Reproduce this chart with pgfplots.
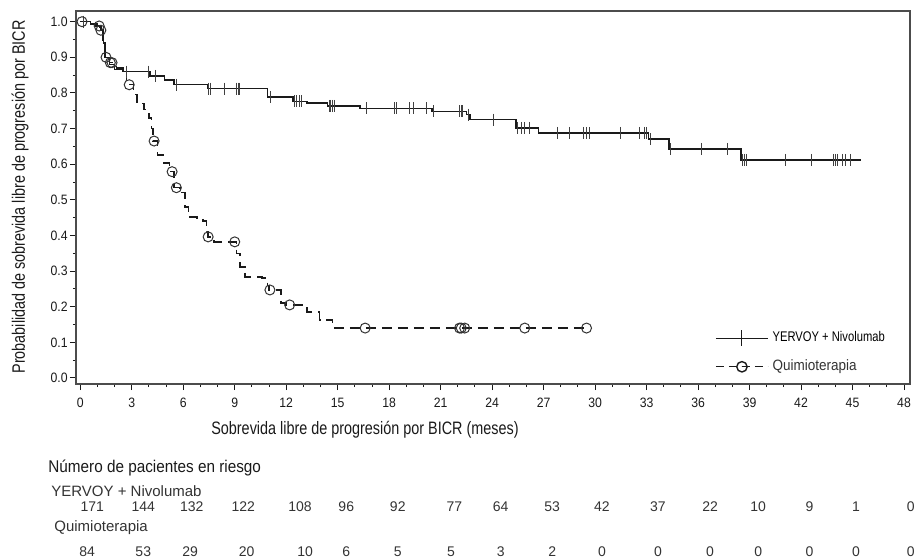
\documentclass[border=0pt]{standalone}
\usepackage{fontspec}
\setmainfont{Liberation Sans}
\newfontfamily\narrow[FakeStretch=0.8]{Liberation Sans}
\newfontfamily\semi[FakeStretch=0.9]{Liberation Sans}
\usepackage{pgfplots}
\pgfplotsset{compat=1.18}

\definecolor{ink}{HTML}{1A1A1A}
\definecolor{txt}{HTML}{333333}
\tikzset{risk/.style={anchor=base, inner sep=0pt, text=txt, font=\fontsize{7}{8}\selectfont}}

\begin{document}
\begin{tikzpicture}
% picture frame: 1 reference pixel = 0.5pt (921 x 558)
\path[use as bounding box] (0pt,0pt) rectangle (460.5pt,279pt);
\begin{axis}[
  at={(38pt,87pt)}, anchor=south west,
  scale only axis, width=417pt, height=186.5pt,
  xmin=-0.25, xmax=48.35, ymin=-0.017, ymax=1.03,
  xtick={0,3,...,48}, minor x tick num=2,
  ytick={0,0.1,0.2,0.3,0.4,0.5,0.6,0.7,0.8,0.9,1.0}, minor y tick num=1,
  tick pos=left, tick align=outside,
  major tick length=3pt, minor tick length=1.6pt,
  every tick/.style={ink, line width=0.5pt},
  axis line style={draw=black!70, line width=0.7pt},
  clip=false,
  /pgf/number format/assume math mode=true,
  ticklabel style={font=\semi\fontsize{6.8}{8}\selectfont, text=ink},
  xticklabel style={yshift=-0.5pt},
  yticklabel style={/pgf/number format/fixed, /pgf/number format/fixed zerofill,
    /pgf/number format/precision=1, inner sep=1pt},
  legend style={at={(0.766,0.152)}, anchor=north west, draw=none, fill=none,
    inner sep=0pt, row sep=3.5pt, cells={anchor=west}},
  legend cell align=left,
  legend image code/.code={\draw[mark repeat=2,mark phase=2,#1]
    plot coordinates {(0pt,0pt) (13pt,0pt) (26pt,0pt)};},
]
\addlegendimage{ink, line width=0.7pt, mark=|, mark size=4pt, mark options={line width=0.5pt}}
\addlegendentry{{\narrow\fontsize{7}{8}\selectfont YERVOY + Nivolumab}}
\addlegendimage{ink, line width=0.7pt, dash pattern=on 4pt off 2.5pt, mark=o, mark size=2.6pt, mark options={solid}}
\addlegendentry{{\semi\fontsize{7.5}{8}\selectfont\color{txt}Quimioterapia}}

% YERVOY + Nivolumab
\addplot[const plot, ink, line width=0.75pt, forget plot] coordinates {
  (0,1.0) (0.6,0.994) (1.0,0.988) (1.2,0.976) (1.35,0.94) (1.45,0.90)
  (1.7,0.88) (2.0,0.866) (2.5,0.86) (4.07,0.848) (4.9,0.836) (5.45,0.823)
  (7.4,0.812) (10.9,0.789) (12.4,0.776) (13.2,0.772) (14.4,0.764)
  (16.3,0.757) (20.5,0.748) (22.5,0.739) (22.7,0.725) (25.4,0.702)
  (26.7,0.688) (33.1,0.671) (34.3,0.643) (38.5,0.612) (45.5,0.612)
};
\addplot[only marks, mark=|, mark size=3pt, black!75, mark options={line width=0.5pt}, forget plot] coordinates {
  (0.2,1.0) (2.7,0.86) (3.96,0.86) (4.4,0.848) (5.6,0.823) (7.5,0.812)
  (7.6,0.812) (8.4,0.812) (9.1,0.812) (9.2,0.812) (9.3,0.812) (11.1,0.789)
  (12.5,0.776) (12.6,0.776) (12.8,0.776) (12.9,0.776) (14.5,0.764)
  (14.6,0.764) (14.7,0.764) (14.8,0.764) (16.7,0.757) (18.3,0.757)
  (18.4,0.757) (19.2,0.757) (19.4,0.757) (20.2,0.757) (20.6,0.748)
  (22.1,0.748) (22.2,0.748) (22.3,0.748) (22.6,0.739) (24.1,0.725)
  (25.5,0.702) (25.7,0.702) (25.9,0.702) (26.2,0.702) (27.8,0.688)
  (28.5,0.688) (29.3,0.688) (29.5,0.688) (29.7,0.688) (31.5,0.688)
  (32.6,0.688) (32.9,0.688) (33.0,0.688) (33.2,0.671) (34.4,0.643)
  (36.2,0.643) (37.7,0.643) (38.6,0.612) (38.7,0.612) (38.8,0.612)
  (41.1,0.612) (42.6,0.612) (43.9,0.612) (44.0,0.612) (44.1,0.612)
  (44.4,0.612) (44.6,0.612) (44.9,0.612)
};

% Quimioterapia
\addplot[const plot, ink, line width=0.75pt, dash pattern=on 5pt off 3pt, forget plot] coordinates {
  (0,1.0) (0.9,0.988) (1.15,0.976) (1.3,0.94) (1.45,0.90) (1.7,0.885)
  (2.1,0.87) (2.7,0.823) (3.1,0.795) (3.3,0.77) (3.7,0.753) (4.0,0.73)
  (4.15,0.70) (4.25,0.665) (4.5,0.626) (4.85,0.604) (5.2,0.579)
  (5.45,0.534) (5.8,0.52) (6.1,0.48) (6.3,0.452) (6.8,0.447) (7.15,0.44)
  (7.35,0.41) (7.45,0.396) (7.8,0.382) (9.1,0.35) (9.3,0.312) (9.6,0.284)
  (10.6,0.28) (10.9,0.26) (11.0,0.247) (11.7,0.21) (12.0,0.205)
  (13.2,0.185) (13.95,0.163) (14.7,0.14) (29.6,0.14)
};
\addplot[only marks, mark=o, mark size=2.5pt, black!80, mark options={line width=0.5pt}, forget plot] coordinates {
  (0.1,1.0) (1.1,0.988) (1.2,0.976) (1.5,0.90) (1.75,0.885) (1.85,0.885)
  (2.85,0.823) (4.3,0.665) (5.35,0.579) (5.6,0.534) (7.45,0.396)
  (9.0,0.382) (11.05,0.247) (12.2,0.205) (16.6,0.14) (22.1,0.14)
  (22.2,0.14) (22.4,0.14) (25.9,0.14) (29.5,0.14)
};

% numbers at risk (baselines below the axis, in axis units)
\node[risk] at (axis cs:0.7,-0.376) {171};
\node[risk] at (axis cs:3.67,-0.376) {144};
\node[risk] at (axis cs:6.5,-0.376) {132};
\node[risk] at (axis cs:9.5,-0.376) {122};
\node[risk] at (axis cs:12.8,-0.376) {108};
\node[risk] at (axis cs:15.5,-0.376) {96};
\node[risk] at (axis cs:18.5,-0.376) {92};
\node[risk] at (axis cs:21.8,-0.376) {77};
\node[risk] at (axis cs:24.5,-0.376) {64};
\node[risk] at (axis cs:27.5,-0.376) {53};
\node[risk] at (axis cs:30.4,-0.376) {42};
\node[risk] at (axis cs:33.66,-0.376) {37};
\node[risk] at (axis cs:36.7,-0.376) {22};
\node[risk] at (axis cs:39.5,-0.376) {10};
\node[risk] at (axis cs:42.5,-0.376) {9};
\node[risk] at (axis cs:45.2,-0.376) {1};
\node[risk] at (axis cs:48.4,-0.376) {0};

\node[risk] at (axis cs:0.4,-0.50) {84};
\node[risk] at (axis cs:3.67,-0.50) {53};
\node[risk] at (axis cs:6.4,-0.50) {29};
\node[risk] at (axis cs:9.7,-0.50) {20};
\node[risk] at (axis cs:13.1,-0.50) {10};
\node[risk] at (axis cs:15.5,-0.50) {6};
\node[risk] at (axis cs:18.5,-0.50) {5};
\node[risk] at (axis cs:21.6,-0.50) {5};
\node[risk] at (axis cs:24.5,-0.50) {3};
\node[risk] at (axis cs:27.5,-0.50) {2};
\node[risk] at (axis cs:30.4,-0.50) {0};
\node[risk] at (axis cs:33.66,-0.50) {0};
\node[risk] at (axis cs:36.7,-0.50) {0};
\node[risk] at (axis cs:39.5,-0.50) {0};
\node[risk] at (axis cs:42.5,-0.50) {0};
\node[risk] at (axis cs:45.2,-0.50) {0};
\node[risk] at (axis cs:48.4,-0.50) {0};
\end{axis}

\node[rotate=90, font=\narrow\fontsize{9}{10}\selectfont, text=ink] at (10pt,180.5pt)
  {Probabilidad de sobrevida libre de progresión por BICR};
\node[font=\narrow\fontsize{9}{10}\selectfont, text=ink] at (182.5pt,64pt)
  {Sobrevida libre de progresión por BICR (meses)};
\node[anchor=west, inner sep=0pt, font=\semi\fontsize{8.5}{10}\selectfont, text=ink] at (24pt,45pt)
  {Número de pacientes en riesgo};
\node[anchor=west, inner sep=0pt, font=\fontsize{7.5}{9}\selectfont, text=txt] at (25.5pt,33.5pt)
  {YERVOY + Nivolumab};
\node[anchor=west, inner sep=0pt, font=\fontsize{7.5}{9}\selectfont, text=txt] at (27pt,15pt)
  {Quimioterapia};
\end{tikzpicture}
\end{document}
